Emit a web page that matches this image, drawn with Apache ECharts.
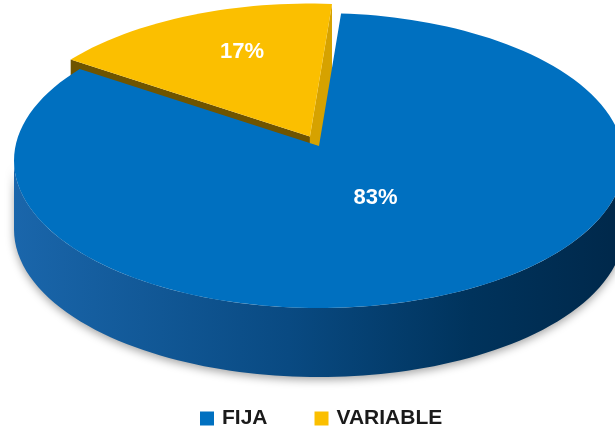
<!DOCTYPE html>
<html>
<head>
<meta charset="utf-8">
<script src="https://cdn.jsdelivr.net/npm/echarts@6/dist/echarts.min.js"></script>
<style>
  html, body { margin: 0; padding: 0; background: #fff; }
  #chart { width: 615px; height: 431px; }
</style>
</head>
<body>
<div id="chart"></div>
<script>
// datos
const categories = ["FIJA", "VARIABLE"];
const values = [83, 17];
const percentLabels = ["83%", "17%"];

// estilo
const colors = ["#0070C0", "#FBBF00"];
const cutColors = [["#0a4f8c", "#0a4f8c"], ["#6E5400", "#D6A200"]];
const explode = [0, 1];
const labelRatio = [[0.5, 0.345], [0.6, 0.69]]; // [x, y] a lo largo de la bisectriz

// geometria del pastel 3D (perspectiva aproximada)
const CX = 319, APEX_Y = 146, RIM_CY = 160.5, RX = 305, RY = 147.5, DEPTH = 69;
const START = 5;   // grados, sentido horario desde arriba
const WARP = 4.9;  // distorsion angular de la perspectiva
const EX = 21, EY = 10.5;

const total = values.reduce((a, b) => a + b, 0);
const angles = [];
let acc = START;
values.forEach(v => {
  const a0 = acc;
  acc += v / total * 360;
  angles.push([a0, acc]);
});

const rad = d => d * Math.PI / 180;
function rim(t, off) {
  const f = rad(t - WARP * Math.sin(rad(2 * t)));
  return [CX + RX * Math.sin(f) + off[0], RIM_CY - RY * Math.cos(f) + off[1]];
}
function arc(a0, a1, off, dy) {
  const pts = [];
  const n = Math.max(2, Math.ceil(Math.abs(a1 - a0) / 2));
  for (let i = 0; i <= n; i++) {
    const p = rim(a0 + (a1 - a0) * i / n, off);
    pts.push([p[0], p[1] + (dy || 0)]);
  }
  return pts;
}

function renderSlice(idx) {
  return function (params, api) {
    const [a0, a1] = angles[idx];
    const mid = (a0 + a1) / 2;
    const off = explode[idx]
      ? [Math.sin(rad(mid)) * EX, -Math.cos(rad(mid)) * EY]
      : [0, 0];
    const apex = [CX + off[0], APEX_Y + off[1]];
    const children = [];

    // caras de corte (solo porcion separada)
    if (explode[idx]) {
      [a0, a1].forEach((a, k) => {
        const p = rim(a, off);
        children.push({
          type: "polygon",
          shape: { points: [apex, p, [p[0], p[1] + DEPTH], [apex[0], apex[1] + DEPTH]] },
          style: { fill: cutColors[idx][k] }
        });
      });
    }

    // lateral frontal
    const s0 = Math.max(a0, 90), s1 = Math.min(a1, 270);
    if (s1 > s0) {
      const top = arc(s1, s0, off, 0);
      const bottom = arc(s0, s1, off, DEPTH);
      children.push({
        type: "polygon",
        shape: { points: top.concat(bottom) },
        style: {
          fill: {
            type: "linear", x: 0, y: 0, x2: 1, y2: 0,
            colorStops: [
              { offset: 0, color: "#1a66ab" },
              { offset: 0.45, color: "#094a82" },
              { offset: 0.75, color: "#00335c" },
              { offset: 1, color: "#00284a" }
            ]
          },
          shadowBlur: 8,
          shadowColor: "rgba(0,0,0,0.35)",
          shadowOffsetY: 3
        }
      });
    }

    // cara superior
    children.push({
      type: "polygon",
      shape: { points: [apex].concat(arc(a0, a1, off, 0)) },
      style: { fill: colors[idx] }
    });

    // etiqueta
    const m = rim(mid, off);
    const r = labelRatio[idx];
    children.push({
      type: "text",
      x: apex[0] + (m[0] - apex[0]) * r[0],
      y: apex[1] + (m[1] - apex[1]) * r[1],
      style: {
        text: percentLabels[idx],
        fill: "#fff",
        font: "bold 22px 'Liberation Sans', Arial, sans-serif",
        align: "center",
        verticalAlign: "middle"
      }
    });

    return { type: "group", children: children };
  };
}

const chart = echarts.init(document.getElementById("chart"));
// orden de dibujo: la porcion separada va detras
const drawOrder = [1, 0];
chart.setOption({
  animation: false,
  color: colors,
  legend: {
    data: categories,
    left: 195,
    top: 403,
    icon: "rect",
    itemWidth: 14,
    itemHeight: 14,
    itemGap: 47,
    textStyle: {
      fontFamily: "Liberation Sans",
      fontWeight: "bold",
      fontSize: 21,
      color: "#1a1a1a",
      padding: [0, 0, 0, 3]
    }
  },
  series: drawOrder.map(i => ({
    type: "custom",
    name: categories[i],
    coordinateSystem: "none",
    itemStyle: { color: colors[i] },
    data: [[values[i]]],
    renderItem: renderSlice(i)
  }))
});
</script>
</body>
</html>
